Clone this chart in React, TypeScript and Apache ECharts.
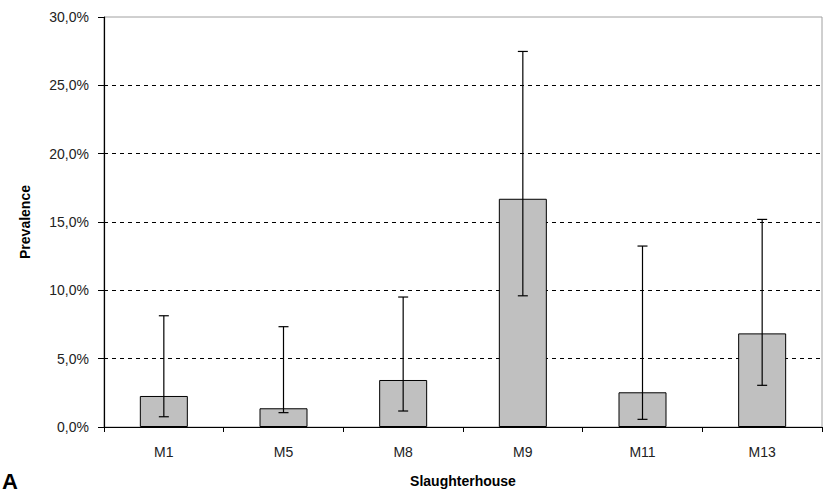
import React, { useEffect, useRef } from "react";
import * as echarts from "echarts";

const categories = ["M1", "M5", "M8", "M9", "M11", "M13"];
const prevalence = [2.27, 1.37, 3.44, 16.7, 2.54, 6.85];
const lowerCI = [0.75, 1.05, 1.17, 9.6, 0.56, 3.05];
const upperCI = [8.14, 7.34, 9.51, 27.48, 13.24, 15.19];
const yTicks = [0, 5, 10, 15, 20, 25, 30];
const gridLines = [5, 10, 15, 20, 25];

export default function App() {
  const ref = useRef<HTMLDivElement>(null);
  useEffect(() => {
    if (!ref.current) return;
    const chart = echarts.init(ref.current, undefined, { renderer: "svg" });
    const font = "Liberation Sans, Arial, sans-serif";
    const errData = categories.map((_, i) => [i, lowerCI[i], upperCI[i]]);
    chart.setOption({
      animation: false,
      backgroundColor: "#ffffff",
      grid: {
        left: 104,
        right: 4,
        top: 17,
        bottom: 70,
        show: true,
        borderColor: "#a0a0a0",
        borderWidth: 1,
      },
      xAxis: {
        type: "category",
        data: categories,
        name: "Slaughterhouse",
        nameLocation: "middle",
        nameGap: 47,
        nameTextStyle: { fontFamily: font, fontWeight: "bold", fontSize: 14, color: "#000" },
        axisLine: { show: true, lineStyle: { color: "#000", width: 1.2 } },
        axisTick: { show: true, length: 5, alignWithLabel: false, lineStyle: { color: "#000" } },
        axisLabel: { fontFamily: font, fontSize: 14, color: "#222", margin: 18 },
        splitLine: { show: false },
      },
      yAxis: {
        type: "value",
        min: 0,
        max: 30,
        interval: 5,
        name: "Prevalence",
        nameLocation: "middle",
        nameGap: 72,
        nameRotate: 90,
        nameTextStyle: { fontFamily: font, fontWeight: "bold", fontSize: 14, color: "#000" },
        axisLine: { show: true, lineStyle: { color: "#000", width: 1.2 } },
        axisTick: { show: true, inside: false, length: 6, lineStyle: { color: "#000" } },
        axisLabel: {
          fontFamily: font,
          fontSize: 14,
          color: "#222",
          margin: 15,
          formatter: (v: number) => (yTicks.includes(v) ? v.toFixed(1).replace(".", ",") + "%" : ""),
        },
        splitLine: { show: false },
      },
      series: [
        {
          type: "bar",
          data: prevalence,
          barWidth: 48,
          itemStyle: { color: "#c0c0c0", borderColor: "#000", borderWidth: 1 },
          z: 2,
          markLine: {
            silent: true,
            symbol: "none",
            label: { show: false },
            z: 1,
            lineStyle: { color: "#000", type: [4, 4], width: 1 },
            data: gridLines.map((v) => ({ yAxis: v })),
          },
        },
        {
          type: "custom",
          data: errData,
          z: 3,
          renderItem: (params: any, api: any) => {
            const x = api.value(0);
            const lo = api.coord([x, api.value(1)]);
            const hi = api.coord([x, api.value(2)]);
            const hw = 5;
            const style = { stroke: "#000", lineWidth: 1.2, fill: "none" };
            return {
              type: "group",
              children: [
                { type: "line", shape: { x1: lo[0], y1: lo[1], x2: hi[0], y2: hi[1] }, style },
                { type: "line", shape: { x1: lo[0] - hw, y1: lo[1], x2: lo[0] + hw, y2: lo[1] }, style },
                { type: "line", shape: { x1: hi[0] - hw, y1: hi[1], x2: hi[0] + hw, y2: hi[1] }, style },
              ],
            };
          },
        },
      ],
      graphic: [
        {
          type: "text",
          left: 2,
          top: 470,
          style: { text: "A", font: "bold 22px Liberation Sans, Arial, sans-serif", fill: "#000" },
        },
      ],
    });
    return () => chart.dispose();
  }, []);
  return (
    <div
      ref={ref}
      style={{ position: "absolute", left: 0, top: 0, width: 826, height: 497, overflow: "hidden" }}
    />
  );
}
